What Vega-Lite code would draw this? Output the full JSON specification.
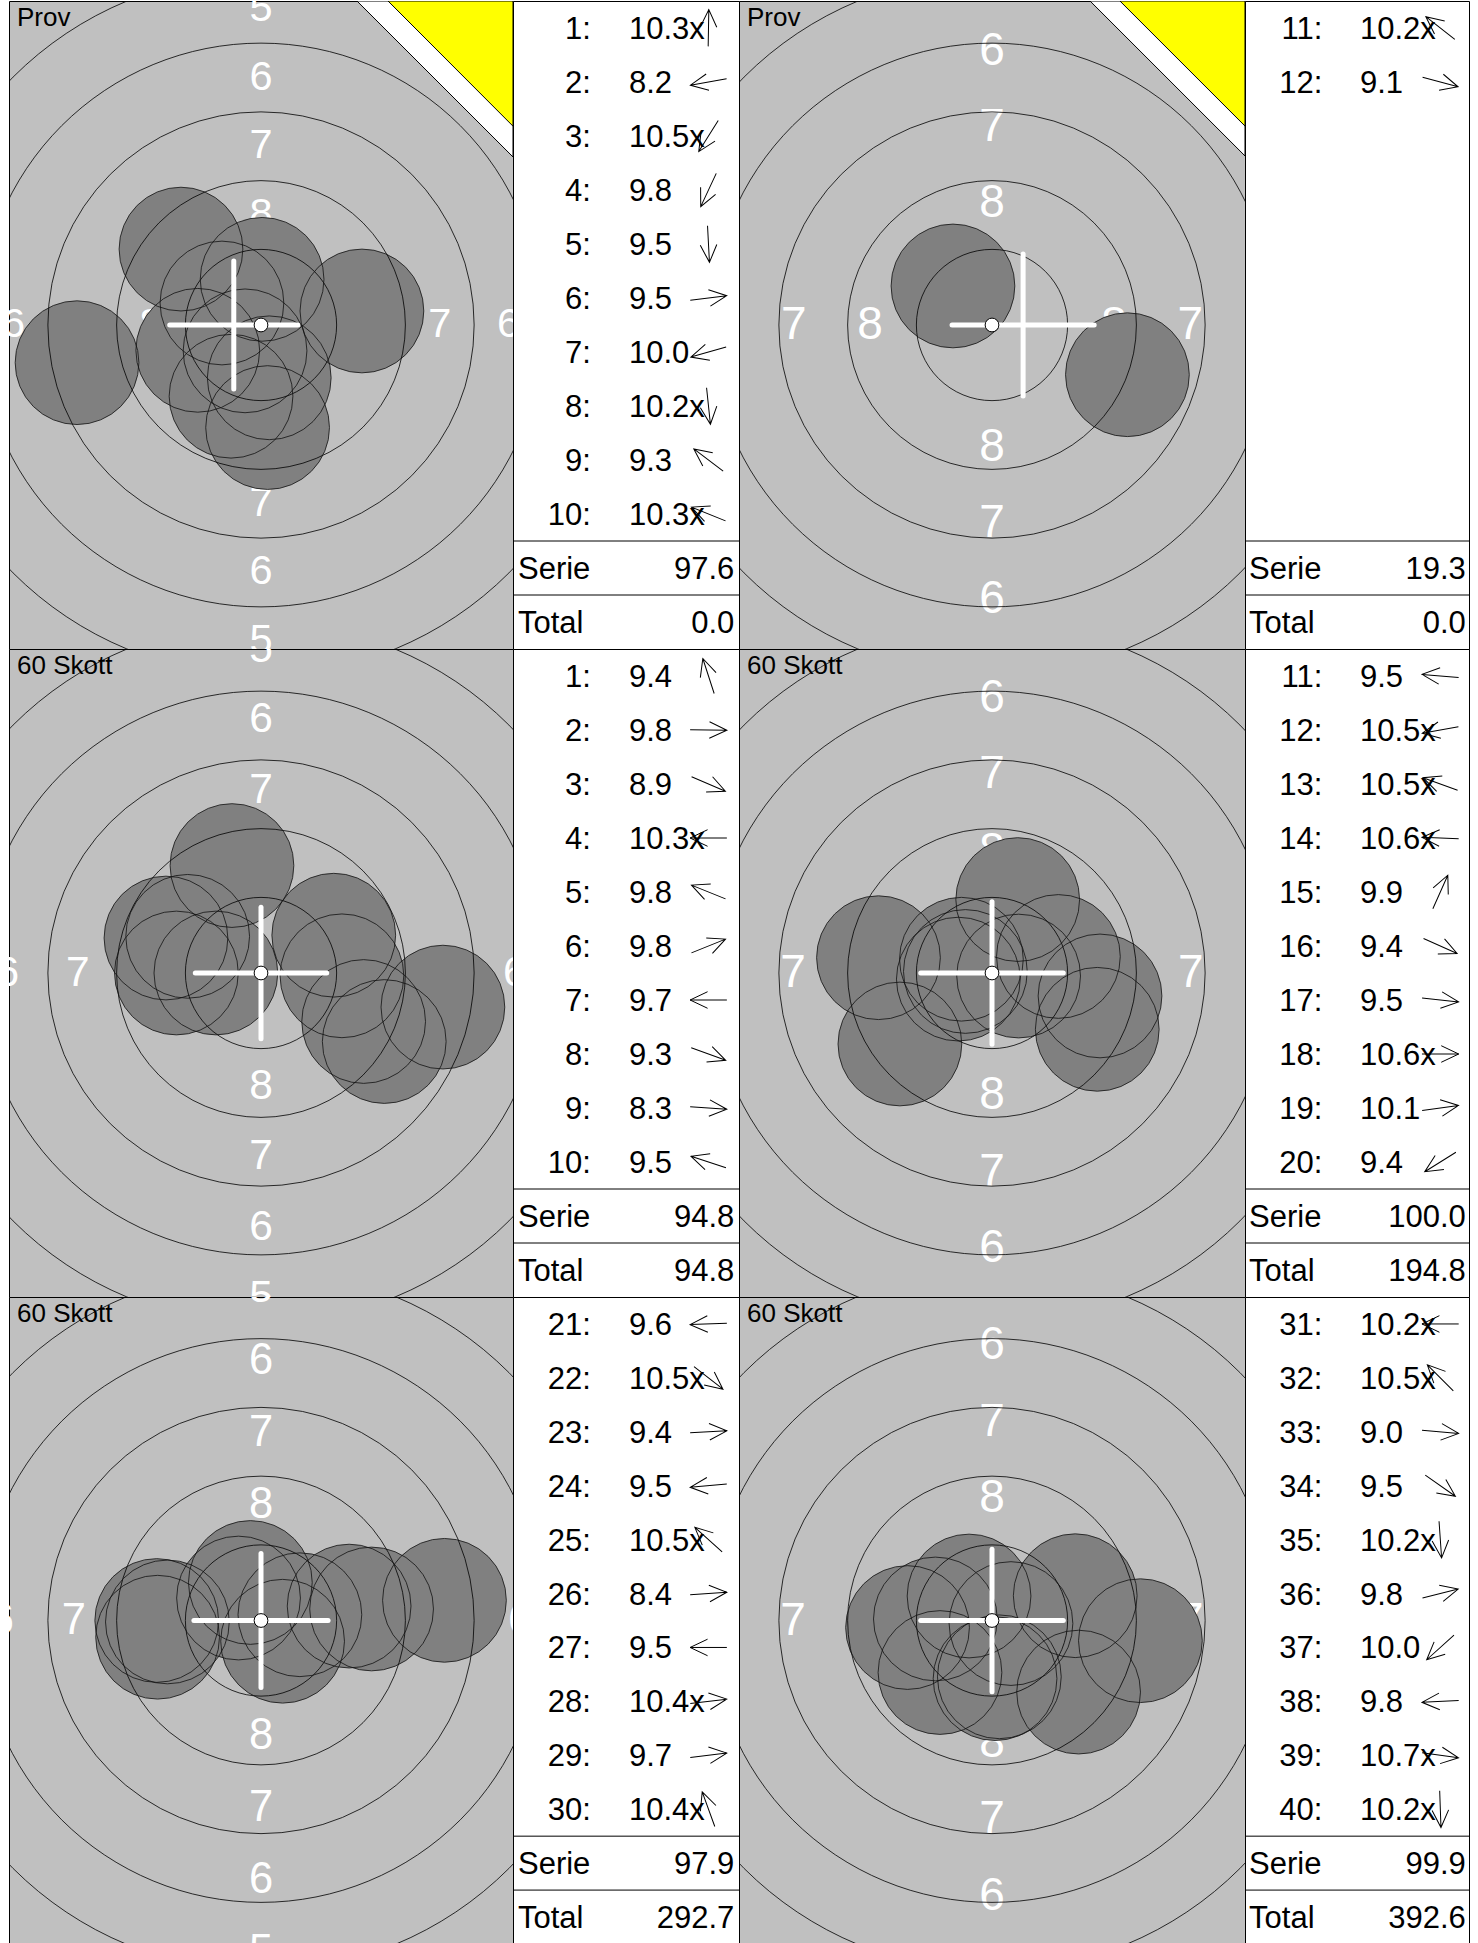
{
"$schema": "https://vega.github.io/schema/vega-lite/v6.json",
"padding": {"left": 8, "top": 0, "right": 10, "bottom": 0},
"autosize": {"type": "pad"},
"spacing": 0,
"bounds": "flush",
"columns": 4,
"config": {"axis": {"disable": true}, "legend": {"disable": true}, "concat": {"spacing": 0}, "text": {"font": "Liberation Sans"},
  "title": {"anchor": "start", "frame": "group", "orient": "top", "offset": -30, "dx": 8, "fontSize": 26, "font": "Liberation Sans", "fontWeight": "normal", "color": "#000000"}},
"datasets": {
"labels": [
{"t":"8","x":0,"y":4.0},{"t":"8","x":0,"y":-4.0},{"t":"8","x":4.0,"y":0},{"t":"8","x":-4.0,"y":0},
{"t":"7","x":0,"y":6.5},{"t":"7","x":0,"y":-6.5},{"t":"7","x":6.5,"y":0},{"t":"7","x":-6.5,"y":0},
{"t":"6","x":0,"y":9.0},{"t":"6","x":0,"y":-9.0},{"t":"6","x":9.0,"y":0},{"t":"6","x":-9.0,"y":0},
{"t":"5","x":0,"y":11.5},{"t":"5","x":0,"y":-11.5},{"t":"5","x":11.5,"y":0},{"t":"5","x":-11.5,"y":0},
{"t":"4","x":0,"y":14.0},{"t":"4","x":0,"y":-14.0},{"t":"4","x":14.0,"y":0},{"t":"4","x":-14.0,"y":0}
],
"rings": [{"x":0,"y":0,"r":2.75},{"x":0,"y":0,"r":5.25},{"x":0,"y":0,"r":7.75},{"x":0,"y":0,"r":10.25},{"x":0,"y":0,"r":12.75},{"x":0,"y":0,"r":15.25},{"x":0,"y":0,"r":17.75}],
"center": [{"x":0,"y":0}],
"shots": [
{"p":1,"n":1,"x":0.04,"y":1.66},{"p":1,"n":2,"x":-6.69,"y":-1.37},{"p":1,"n":3,"x":-0.58,"y":-0.94},{"p":1,"n":4,"x":-1.09,"y":-2.59},{"p":1,"n":5,"x":0.24,"y":-3.73},
{"p":1,"n":6,"x":3.67,"y":0.51},{"p":1,"n":7,"x":-2.30,"y":-0.92},{"p":1,"n":8,"x":0.30,"y":-1.92},{"p":1,"n":9,"x":-2.91,"y":2.76},{"p":1,"n":10,"x":-1.42,"y":0.80},
{"p":2,"n":11,"x":-1.28,"y":1.28},{"p":2,"n":12,"x":4.44,"y":-1.63},
{"p":3,"n":1,"x":-1.03,"y":3.81},{"p":3,"n":2,"x":2.87,"y":-0.1},{"p":3,"n":3,"x":4.37,"y":-2.43},{"p":3,"n":4,"x":-1.6,"y":0.0},{"p":3,"n":5,"x":-2.6,"y":1.3},
{"p":3,"n":6,"x":2.58,"y":1.34},{"p":3,"n":7,"x":-3.0,"y":0.0},{"p":3,"n":8,"x":3.64,"y":-1.72},{"p":3,"n":9,"x":6.45,"y":-1.21},{"p":3,"n":10,"x":-3.37,"y":1.24},
{"p":4,"n":11,"x":-3.71,"y":0.5},{"p":4,"n":12,"x":-1.1,"y":-0.2},{"p":4,"n":13,"x":-1.0,"y":0.45},{"p":4,"n":14,"x":-0.87,"y":0.05},{"p":4,"n":15,"x":0.84,"y":2.40},
{"p":4,"n":16,"x":3.44,"y":-1.84},{"p":4,"n":17,"x":3.53,"y":-0.75},{"p":4,"n":18,"x":0.87,"y":-0.1},{"p":4,"n":19,"x":2.17,"y":0.54},{"p":4,"n":20,"x":-3.01,"y":-2.32},
{"p":5,"n":21,"x":-3.25,"y":-0.05},{"p":5,"n":22,"x":0.75,"y":-0.72},{"p":5,"n":23,"x":3.84,"y":0.4},{"p":5,"n":24,"x":-3.59,"y":-0.58},{"p":5,"n":25,"x":-0.78,"y":0.78},
{"p":5,"n":26,"x":6.37,"y":0.7},{"p":5,"n":27,"x":-3.62,"y":0.0},{"p":5,"n":28,"x":1.35,"y":0.2},{"p":5,"n":29,"x":3.06,"y":0.5},{"p":5,"n":30,"x":-0.37,"y":1.32},
{"p":6,"n":31,"x":-1.85,"y":0.05},{"p":6,"n":32,"x":-0.75,"y":0.8},{"p":6,"n":33,"x":4.85,"y":-0.66},{"p":6,"n":34,"x":2.83,"y":-2.34},{"p":6,"n":35,"x":0.24,"y":-1.84},
{"p":6,"n":36,"x":2.72,"y":0.81},{"p":6,"n":37,"x":-1.7,"y":-1.7},{"p":6,"n":38,"x":-2.76,"y":-0.23},{"p":6,"n":39,"x":0.62,"y":-0.1},{"p":6,"n":40,"x":0.1,"y":-1.9}
],
"cross": [
{"p":1,"x":-3.32,"x2":1.34,"y":0,"y2":0},{"p":1,"x":-0.99,"x2":-0.99,"y":-2.33,"y2":2.33},
{"p":2,"x":-1.31,"x2":3.35,"y":0,"y2":0},{"p":2,"x":1.02,"x2":1.02,"y":-2.33,"y2":2.33},
{"p":3,"x":-2.33,"x2":2.33,"y":0,"y2":0},{"p":3,"x":0,"x2":0,"y":-2.33,"y2":2.33},
{"p":4,"x":-2.33,"x2":2.33,"y":0,"y2":0},{"p":4,"x":0,"x2":0,"y":-2.33,"y2":2.33},
{"p":5,"x":-2.33,"x2":2.33,"y":0,"y2":0},{"p":5,"x":0,"x2":0,"y":-2.33,"y2":2.33},
{"p":6,"x":-2.33,"x2":2.33,"y":0,"y2":0},{"p":6,"x":0,"x2":0,"y":-2.33,"y2":2.33}
],
"corner": [
{"p":1,"c":"w","x":3.49,"y":11.782,"y2":11.782},{"p":1,"c":"w","x":9.164,"y":6.11,"y2":11.782},
{"p":1,"c":"y","x":4.62,"y":11.782,"y2":11.782},{"p":1,"c":"y","x":9.164,"y":7.23,"y2":11.782},
{"p":2,"c":"w","x":3.215,"y":10.623,"y2":10.623},{"p":2,"c":"w","x":8.295,"y":5.543,"y2":10.623},
{"p":2,"c":"y","x":4.195,"y":10.623,"y2":10.623},{"p":2,"c":"y","x":8.295,"y":6.523,"y2":10.623}
],
"tab": [
{"t":1,"slot":1,"num":"1:","score":"10.3x","dir":89},{"t":1,"slot":2,"num":"2:","score":"\u00a08.2","dir":190},{"t":1,"slot":3,"num":"3:","score":"10.5x","dir":238},
{"t":1,"slot":4,"num":"4:","score":"\u00a09.8","dir":245},{"t":1,"slot":5,"num":"5:","score":"\u00a09.5","dir":273},{"t":1,"slot":6,"num":"6:","score":"\u00a09.5","dir":7},
{"t":1,"slot":7,"num":"7:","score":"10.0","dir":196},{"t":1,"slot":8,"num":"8:","score":"10.2x","dir":276},{"t":1,"slot":9,"num":"9:","score":"\u00a09.3","dir":143},
{"t":1,"slot":10,"num":"10:","score":"10.3x","dir":158},
{"t":2,"slot":1,"num":"11:","score":"10.2x","dir":142},{"t":2,"slot":2,"num":"12:","score":"\u00a09.1","dir":345},
{"t":3,"slot":1,"num":"1:","score":"\u00a09.4","dir":108},{"t":3,"slot":2,"num":"2:","score":"\u00a09.8","dir":359},{"t":3,"slot":3,"num":"3:","score":"\u00a08.9","dir":337},
{"t":3,"slot":4,"num":"4:","score":"10.3x","dir":180},{"t":3,"slot":5,"num":"5:","score":"\u00a09.8","dir":158},{"t":3,"slot":6,"num":"6:","score":"\u00a09.8","dir":22},
{"t":3,"slot":7,"num":"7:","score":"\u00a09.7","dir":180},{"t":3,"slot":8,"num":"8:","score":"\u00a09.3","dir":340},{"t":3,"slot":9,"num":"9:","score":"\u00a08.3","dir":356},
{"t":3,"slot":10,"num":"10:","score":"\u00a09.5","dir":162},
{"t":4,"slot":1,"num":"11:","score":"\u00a09.5","dir":175},{"t":4,"slot":2,"num":"12:","score":"10.5x","dir":190},{"t":4,"slot":3,"num":"13:","score":"10.5x","dir":160},
{"t":4,"slot":4,"num":"14:","score":"10.6x","dir":178},{"t":4,"slot":5,"num":"15:","score":"\u00a09.9","dir":66},{"t":4,"slot":6,"num":"16:","score":"\u00a09.4","dir":336},
{"t":4,"slot":7,"num":"17:","score":"\u00a09.5","dir":354},{"t":4,"slot":8,"num":"18:","score":"10.6x","dir":0},{"t":4,"slot":9,"num":"19:","score":"10.1","dir":8},
{"t":4,"slot":10,"num":"20:","score":"\u00a09.4","dir":212},
{"t":5,"slot":1,"num":"21:","score":"\u00a09.6","dir":182},{"t":5,"slot":2,"num":"22:","score":"10.5x","dir":322},{"t":5,"slot":3,"num":"23:","score":"\u00a09.4","dir":3},
{"t":5,"slot":4,"num":"24:","score":"\u00a09.5","dir":185},{"t":5,"slot":5,"num":"25:","score":"10.5x","dir":138},{"t":5,"slot":6,"num":"26:","score":"\u00a08.4","dir":4},
{"t":5,"slot":7,"num":"27:","score":"\u00a09.5","dir":180},{"t":5,"slot":8,"num":"28:","score":"10.4x","dir":7},{"t":5,"slot":9,"num":"29:","score":"\u00a09.7","dir":7},
{"t":5,"slot":10,"num":"30:","score":"10.4x","dir":110},
{"t":6,"slot":1,"num":"31:","score":"10.2x","dir":180},{"t":6,"slot":2,"num":"32:","score":"10.5x","dir":135},{"t":6,"slot":3,"num":"33:","score":"\u00a09.0","dir":355},
{"t":6,"slot":4,"num":"34:","score":"\u00a09.5","dir":325},{"t":6,"slot":5,"num":"35:","score":"10.2x","dir":274},{"t":6,"slot":6,"num":"36:","score":"\u00a09.8","dir":14},
{"t":6,"slot":7,"num":"37:","score":"10.0","dir":222},{"t":6,"slot":8,"num":"38:","score":"\u00a09.8","dir":183},{"t":6,"slot":9,"num":"39:","score":"10.7x","dir":352},
{"t":6,"slot":10,"num":"40:","score":"10.2x","dir":272}
],
"sums": [
{"t":1,"slot":11,"label":"Serie","value":"97.6"},{"t":1,"slot":12,"label":"Total","value":"0.0"},
{"t":2,"slot":11,"label":"Serie","value":"19.3"},{"t":2,"slot":12,"label":"Total","value":"0.0"},
{"t":3,"slot":11,"label":"Serie","value":"94.8"},{"t":3,"slot":12,"label":"Total","value":"94.8"},
{"t":4,"slot":11,"label":"Serie","value":"100.0"},{"t":4,"slot":12,"label":"Total","value":"194.8"},
{"t":5,"slot":11,"label":"Serie","value":"97.9"},{"t":5,"slot":12,"label":"Total","value":"292.7"},
{"t":6,"slot":11,"label":"Serie","value":"99.9"},{"t":6,"slot":12,"label":"Total","value":"392.6"}
],
"seps": [{"slot":11},{"slot":12}]
},
"concat": [
{"width": 504, "height": 648, "title": "Prov", "view": {"fill": "#c0c0c0", "stroke": "#000000", "strokeWidth": 1},
 "encoding": {"x": {"field":"x","type":"quantitative","scale":{"domain":[-9.164,9.164],"nice":false,"zero":false},"axis":null},
              "y": {"field":"y","type":"quantitative","scale":{"domain":[-11.782,11.782],"nice":false,"zero":false},"axis":null}},
 "layer": [
  {"data":{"name":"labels"},"mark":{"type":"text","color":"#ffffff","font":"Liberation Sans","fontSize":41.5,"align":"center","baseline":"middle","clip":true},"encoding":{"text":{"field":"t","type":"nominal"}}},
  {"data":{"name":"shots"},"transform":[{"filter":"datum.p == 1"}],"mark":{"type":"point","shape":"circle","filled":true,"color":"#808080","opacity":1,"strokeWidth":0,"clip":true},"encoding":{"size":{"datum":2.25,"type":"quantitative","scale":{"type":"pow","exponent":2,"domain":[0,10],"range":[0,302500]}}}},
  {"data":{"name":"rings"},"mark":{"type":"point","shape":"circle","filled":false,"color":"#000000","strokeWidth":0.8,"opacity":1,"clip":true},"encoding":{"size":{"field":"r","type":"quantitative","scale":{"type":"pow","exponent":2,"domain":[0,10],"range":[0,302500]}}}},
  {"data":{"name":"shots"},"transform":[{"filter":"datum.p == 1"}],"mark":{"type":"point","shape":"circle","filled":false,"color":"#111111","strokeWidth":0.8,"opacity":1,"clip":true},"encoding":{"size":{"datum":2.25,"type":"quantitative","scale":{"type":"pow","exponent":2,"domain":[0,10],"range":[0,302500]}}}},
  {"data":{"name":"cross"},"transform":[{"filter":"datum.p == 1"}],"mark":{"type":"rule","color":"#ffffff","strokeWidth":5,"strokeCap":"round","clip":true},"encoding":{"x2":{"field":"x2"},"y2":{"field":"y2"}}},
  {"data":{"name":"center"},"mark":{"type":"point","shape":"circle","filled":true,"fill":"#ffffff","stroke":"#000000","strokeWidth":1,"opacity":1},"encoding":{"size":{"datum":0.25,"type":"quantitative","scale":{"type":"pow","exponent":2,"domain":[0,10],"range":[0,302500]}}}},
  {"data":{"name":"corner"},"transform":[{"filter":"datum.p == 1 && datum.c == 'w'"}],"mark":{"type":"area","fill":"#ffffff","stroke":"#000000","strokeWidth":1,"opacity":1,"clip":true},"encoding":{"y2":{"field":"y2"}}},
  {"data":{"name":"corner"},"transform":[{"filter":"datum.p == 1 && datum.c == 'y'"}],"mark":{"type":"area","fill":"#ffff00","stroke":"#000000","strokeWidth":1,"opacity":1,"clip":true},"encoding":{"y2":{"field":"y2"}}}
 ]},
{"width": 226, "height": 648, "view": {"fill": "#ffffff", "stroke": "#000000", "strokeWidth": 1},
 "encoding": {"y": {"field":"slot","type":"ordinal","bandPosition":0.5,"scale":{"type":"band","domain":[1,2,3,4,5,6,7,8,9,10,11,12],"paddingInner":0,"paddingOuter":0},"axis":null}},
 "layer": [
  {"data":{"name":"seps"},"mark":{"type":"rule","color":"#000000","strokeWidth":1},"encoding":{"y":{"field":"slot","type":"ordinal","bandPosition":0}}},
  {"data":{"name":"tab"},"transform":[{"filter":"datum.t == 1"}],"mark":{"type":"text","align":"right","baseline":"middle","dy":2,"fontSize":31,"font":"Liberation Sans","color":"#000000"},"encoding":{"x":{"datum":34.5,"type":"quantitative","scale":{"domain":[0,100],"nice":false},"axis":null},"text":{"field":"num","type":"nominal"}}},
  {"data":{"name":"tab"},"transform":[{"filter":"datum.t == 1"}],"mark":{"type":"text","align":"left","baseline":"middle","dy":2,"fontSize":31,"font":"Liberation Sans","color":"#000000"},"encoding":{"x":{"datum":51.3,"type":"quantitative"},"text":{"field":"score","type":"nominal"}}},
  {"data":{"name":"tab"},"transform":[{"filter":"datum.t == 1"}],"mark":{"type":"point","shape":"M -1 0 L 1 0 M 0.05 -0.45 L 1 0 L 0.05 0.45","filled":false,"color":"#000000","strokeWidth":1,"opacity":1,"size":1350},"encoding":{"x":{"datum":86.5,"type":"quantitative"},"angle":{"field":"dir","type":"quantitative","scale":{"domain":[0,360],"range":[360,0]}}}},
  {"data":{"name":"sums"},"transform":[{"filter":"datum.t == 1"}],"mark":{"type":"text","align":"left","baseline":"middle","dy":2,"fontSize":31,"font":"Liberation Sans","color":"#000000"},"encoding":{"x":{"datum":2.2,"type":"quantitative"},"text":{"field":"label","type":"nominal"}}},
  {"data":{"name":"sums"},"transform":[{"filter":"datum.t == 1"}],"mark":{"type":"text","align":"right","baseline":"middle","dy":2,"fontSize":31,"font":"Liberation Sans","color":"#000000"},"encoding":{"x":{"datum":97.9,"type":"quantitative"},"text":{"field":"value","type":"nominal"}}}
 ]},
{"width": 506, "height": 648, "title": "Prov", "view": {"fill": "#c0c0c0", "stroke": "#000000", "strokeWidth": 1},
 "encoding": {"x": {"field":"x","type":"quantitative","scale":{"domain":[-8.295,8.295],"nice":false,"zero":false},"axis":null},
              "y": {"field":"y","type":"quantitative","scale":{"domain":[-10.623,10.623],"nice":false,"zero":false},"axis":null}},
 "layer": [
  {"data":{"name":"labels"},"mark":{"type":"text","color":"#ffffff","font":"Liberation Sans","fontSize":46,"align":"center","baseline":"middle","clip":true},"encoding":{"text":{"field":"t","type":"nominal"}}},
  {"data":{"name":"shots"},"transform":[{"filter":"datum.p == 2"}],"mark":{"type":"point","shape":"circle","filled":true,"color":"#808080","opacity":1,"strokeWidth":0,"clip":true},"encoding":{"size":{"datum":2.25,"type":"quantitative","scale":{"type":"pow","exponent":2,"domain":[0,10],"range":[0,372100]}}}},
  {"data":{"name":"rings"},"mark":{"type":"point","shape":"circle","filled":false,"color":"#000000","strokeWidth":0.8,"opacity":1,"clip":true},"encoding":{"size":{"field":"r","type":"quantitative","scale":{"type":"pow","exponent":2,"domain":[0,10],"range":[0,372100]}}}},
  {"data":{"name":"shots"},"transform":[{"filter":"datum.p == 2"}],"mark":{"type":"point","shape":"circle","filled":false,"color":"#111111","strokeWidth":0.8,"opacity":1,"clip":true},"encoding":{"size":{"datum":2.25,"type":"quantitative","scale":{"type":"pow","exponent":2,"domain":[0,10],"range":[0,372100]}}}},
  {"data":{"name":"cross"},"transform":[{"filter":"datum.p == 2"}],"mark":{"type":"rule","color":"#ffffff","strokeWidth":5,"strokeCap":"round","clip":true},"encoding":{"x2":{"field":"x2"},"y2":{"field":"y2"}}},
  {"data":{"name":"center"},"mark":{"type":"point","shape":"circle","filled":true,"fill":"#ffffff","stroke":"#000000","strokeWidth":1,"opacity":1},"encoding":{"size":{"datum":0.25,"type":"quantitative","scale":{"type":"pow","exponent":2,"domain":[0,10],"range":[0,372100]}}}},
  {"data":{"name":"corner"},"transform":[{"filter":"datum.p == 2 && datum.c == 'w'"}],"mark":{"type":"area","fill":"#ffffff","stroke":"#000000","strokeWidth":1,"opacity":1,"clip":true},"encoding":{"y2":{"field":"y2"}}},
  {"data":{"name":"corner"},"transform":[{"filter":"datum.p == 2 && datum.c == 'y'"}],"mark":{"type":"area","fill":"#ffff00","stroke":"#000000","strokeWidth":1,"opacity":1,"clip":true},"encoding":{"y2":{"field":"y2"}}}
 ]},
{"width": 224, "height": 648, "view": {"fill": "#ffffff", "stroke": "#000000", "strokeWidth": 1},
 "encoding": {"y": {"field":"slot","type":"ordinal","bandPosition":0.5,"scale":{"type":"band","domain":[1,2,3,4,5,6,7,8,9,10,11,12],"paddingInner":0,"paddingOuter":0},"axis":null}},
 "layer": [
  {"data":{"name":"seps"},"mark":{"type":"rule","color":"#000000","strokeWidth":1},"encoding":{"y":{"field":"slot","type":"ordinal","bandPosition":0}}},
  {"data":{"name":"tab"},"transform":[{"filter":"datum.t == 2"}],"mark":{"type":"text","align":"right","baseline":"middle","dy":2,"fontSize":31,"font":"Liberation Sans","color":"#000000"},"encoding":{"x":{"datum":34.5,"type":"quantitative","scale":{"domain":[0,100],"nice":false},"axis":null},"text":{"field":"num","type":"nominal"}}},
  {"data":{"name":"tab"},"transform":[{"filter":"datum.t == 2"}],"mark":{"type":"text","align":"left","baseline":"middle","dy":2,"fontSize":31,"font":"Liberation Sans","color":"#000000"},"encoding":{"x":{"datum":51.3,"type":"quantitative"},"text":{"field":"score","type":"nominal"}}},
  {"data":{"name":"tab"},"transform":[{"filter":"datum.t == 2"}],"mark":{"type":"point","shape":"M -1 0 L 1 0 M 0.05 -0.45 L 1 0 L 0.05 0.45","filled":false,"color":"#000000","strokeWidth":1,"opacity":1,"size":1350},"encoding":{"x":{"datum":87.2,"type":"quantitative"},"angle":{"field":"dir","type":"quantitative","scale":{"domain":[0,360],"range":[360,0]}}}},
  {"data":{"name":"sums"},"transform":[{"filter":"datum.t == 2"}],"mark":{"type":"text","align":"left","baseline":"middle","dy":2,"fontSize":31,"font":"Liberation Sans","color":"#000000"},"encoding":{"x":{"datum":1.8,"type":"quantitative"},"text":{"field":"label","type":"nominal"}}},
  {"data":{"name":"sums"},"transform":[{"filter":"datum.t == 2"}],"mark":{"type":"text","align":"right","baseline":"middle","dy":2,"fontSize":31,"font":"Liberation Sans","color":"#000000"},"encoding":{"x":{"datum":98.6,"type":"quantitative"},"text":{"field":"value","type":"nominal"}}}
 ]},
{"width": 504, "height": 648, "title": "60 Skott", "view": {"fill": "#c0c0c0", "stroke": "#000000", "strokeWidth": 1},
 "encoding": {"x": {"field":"x","type":"quantitative","scale":{"domain":[-8.936,8.936],"nice":false,"zero":false},"axis":null},
              "y": {"field":"y","type":"quantitative","scale":{"domain":[-11.489,11.489],"nice":false,"zero":false},"axis":null}},
 "layer": [
  {"data":{"name":"labels"},"mark":{"type":"text","color":"#ffffff","font":"Liberation Sans","fontSize":42.5,"align":"center","baseline":"middle","clip":true},"encoding":{"text":{"field":"t","type":"nominal"}}},
  {"data":{"name":"shots"},"transform":[{"filter":"datum.p == 3"}],"mark":{"type":"point","shape":"circle","filled":true,"color":"#808080","opacity":1,"strokeWidth":0,"clip":true},"encoding":{"size":{"datum":2.25,"type":"quantitative","scale":{"type":"pow","exponent":2,"domain":[0,10],"range":[0,318096]}}}},
  {"data":{"name":"rings"},"mark":{"type":"point","shape":"circle","filled":false,"color":"#000000","strokeWidth":0.8,"opacity":1,"clip":true},"encoding":{"size":{"field":"r","type":"quantitative","scale":{"type":"pow","exponent":2,"domain":[0,10],"range":[0,318096]}}}},
  {"data":{"name":"shots"},"transform":[{"filter":"datum.p == 3"}],"mark":{"type":"point","shape":"circle","filled":false,"color":"#111111","strokeWidth":0.8,"opacity":1,"clip":true},"encoding":{"size":{"datum":2.25,"type":"quantitative","scale":{"type":"pow","exponent":2,"domain":[0,10],"range":[0,318096]}}}},
  {"data":{"name":"cross"},"transform":[{"filter":"datum.p == 3"}],"mark":{"type":"rule","color":"#ffffff","strokeWidth":5,"strokeCap":"round","clip":true},"encoding":{"x2":{"field":"x2"},"y2":{"field":"y2"}}},
  {"data":{"name":"center"},"mark":{"type":"point","shape":"circle","filled":true,"fill":"#ffffff","stroke":"#000000","strokeWidth":1,"opacity":1},"encoding":{"size":{"datum":0.25,"type":"quantitative","scale":{"type":"pow","exponent":2,"domain":[0,10],"range":[0,318096]}}}}
 ]},
{"width": 226, "height": 648, "view": {"fill": "#ffffff", "stroke": "#000000", "strokeWidth": 1},
 "encoding": {"y": {"field":"slot","type":"ordinal","bandPosition":0.5,"scale":{"type":"band","domain":[1,2,3,4,5,6,7,8,9,10,11,12],"paddingInner":0,"paddingOuter":0},"axis":null}},
 "layer": [
  {"data":{"name":"seps"},"mark":{"type":"rule","color":"#000000","strokeWidth":1},"encoding":{"y":{"field":"slot","type":"ordinal","bandPosition":0}}},
  {"data":{"name":"tab"},"transform":[{"filter":"datum.t == 3"}],"mark":{"type":"text","align":"right","baseline":"middle","dy":2,"fontSize":31,"font":"Liberation Sans","color":"#000000"},"encoding":{"x":{"datum":34.5,"type":"quantitative","scale":{"domain":[0,100],"nice":false},"axis":null},"text":{"field":"num","type":"nominal"}}},
  {"data":{"name":"tab"},"transform":[{"filter":"datum.t == 3"}],"mark":{"type":"text","align":"left","baseline":"middle","dy":2,"fontSize":31,"font":"Liberation Sans","color":"#000000"},"encoding":{"x":{"datum":51.3,"type":"quantitative"},"text":{"field":"score","type":"nominal"}}},
  {"data":{"name":"tab"},"transform":[{"filter":"datum.t == 3"}],"mark":{"type":"point","shape":"M -1 0 L 1 0 M 0.05 -0.45 L 1 0 L 0.05 0.45","filled":false,"color":"#000000","strokeWidth":1,"opacity":1,"size":1350},"encoding":{"x":{"datum":86.5,"type":"quantitative"},"angle":{"field":"dir","type":"quantitative","scale":{"domain":[0,360],"range":[360,0]}}}},
  {"data":{"name":"sums"},"transform":[{"filter":"datum.t == 3"}],"mark":{"type":"text","align":"left","baseline":"middle","dy":2,"fontSize":31,"font":"Liberation Sans","color":"#000000"},"encoding":{"x":{"datum":2.2,"type":"quantitative"},"text":{"field":"label","type":"nominal"}}},
  {"data":{"name":"sums"},"transform":[{"filter":"datum.t == 3"}],"mark":{"type":"text","align":"right","baseline":"middle","dy":2,"fontSize":31,"font":"Liberation Sans","color":"#000000"},"encoding":{"x":{"datum":97.9,"type":"quantitative"},"text":{"field":"value","type":"nominal"}}}
 ]},
{"width": 506, "height": 648, "title": "60 Skott", "view": {"fill": "#c0c0c0", "stroke": "#000000", "strokeWidth": 1},
 "encoding": {"x": {"field":"x","type":"quantitative","scale":{"domain":[-8.268,8.268],"nice":false,"zero":false},"axis":null},
              "y": {"field":"y","type":"quantitative","scale":{"domain":[-10.588,10.588],"nice":false,"zero":false},"axis":null}},
 "layer": [
  {"data":{"name":"labels"},"mark":{"type":"text","color":"#ffffff","font":"Liberation Sans","fontSize":46,"align":"center","baseline":"middle","clip":true},"encoding":{"text":{"field":"t","type":"nominal"}}},
  {"data":{"name":"shots"},"transform":[{"filter":"datum.p == 4"}],"mark":{"type":"point","shape":"circle","filled":true,"color":"#808080","opacity":1,"strokeWidth":0,"clip":true},"encoding":{"size":{"datum":2.25,"type":"quantitative","scale":{"type":"pow","exponent":2,"domain":[0,10],"range":[0,374544]}}}},
  {"data":{"name":"rings"},"mark":{"type":"point","shape":"circle","filled":false,"color":"#000000","strokeWidth":0.8,"opacity":1,"clip":true},"encoding":{"size":{"field":"r","type":"quantitative","scale":{"type":"pow","exponent":2,"domain":[0,10],"range":[0,374544]}}}},
  {"data":{"name":"shots"},"transform":[{"filter":"datum.p == 4"}],"mark":{"type":"point","shape":"circle","filled":false,"color":"#111111","strokeWidth":0.8,"opacity":1,"clip":true},"encoding":{"size":{"datum":2.25,"type":"quantitative","scale":{"type":"pow","exponent":2,"domain":[0,10],"range":[0,374544]}}}},
  {"data":{"name":"cross"},"transform":[{"filter":"datum.p == 4"}],"mark":{"type":"rule","color":"#ffffff","strokeWidth":5,"strokeCap":"round","clip":true},"encoding":{"x2":{"field":"x2"},"y2":{"field":"y2"}}},
  {"data":{"name":"center"},"mark":{"type":"point","shape":"circle","filled":true,"fill":"#ffffff","stroke":"#000000","strokeWidth":1,"opacity":1},"encoding":{"size":{"datum":0.25,"type":"quantitative","scale":{"type":"pow","exponent":2,"domain":[0,10],"range":[0,374544]}}}}
 ]},
{"width": 224, "height": 648, "view": {"fill": "#ffffff", "stroke": "#000000", "strokeWidth": 1},
 "encoding": {"y": {"field":"slot","type":"ordinal","bandPosition":0.5,"scale":{"type":"band","domain":[1,2,3,4,5,6,7,8,9,10,11,12],"paddingInner":0,"paddingOuter":0},"axis":null}},
 "layer": [
  {"data":{"name":"seps"},"mark":{"type":"rule","color":"#000000","strokeWidth":1},"encoding":{"y":{"field":"slot","type":"ordinal","bandPosition":0}}},
  {"data":{"name":"tab"},"transform":[{"filter":"datum.t == 4"}],"mark":{"type":"text","align":"right","baseline":"middle","dy":2,"fontSize":31,"font":"Liberation Sans","color":"#000000"},"encoding":{"x":{"datum":34.5,"type":"quantitative","scale":{"domain":[0,100],"nice":false},"axis":null},"text":{"field":"num","type":"nominal"}}},
  {"data":{"name":"tab"},"transform":[{"filter":"datum.t == 4"}],"mark":{"type":"text","align":"left","baseline":"middle","dy":2,"fontSize":31,"font":"Liberation Sans","color":"#000000"},"encoding":{"x":{"datum":51.3,"type":"quantitative"},"text":{"field":"score","type":"nominal"}}},
  {"data":{"name":"tab"},"transform":[{"filter":"datum.t == 4"}],"mark":{"type":"point","shape":"M -1 0 L 1 0 M 0.05 -0.45 L 1 0 L 0.05 0.45","filled":false,"color":"#000000","strokeWidth":1,"opacity":1,"size":1350},"encoding":{"x":{"datum":87.2,"type":"quantitative"},"angle":{"field":"dir","type":"quantitative","scale":{"domain":[0,360],"range":[360,0]}}}},
  {"data":{"name":"sums"},"transform":[{"filter":"datum.t == 4"}],"mark":{"type":"text","align":"left","baseline":"middle","dy":2,"fontSize":31,"font":"Liberation Sans","color":"#000000"},"encoding":{"x":{"datum":1.8,"type":"quantitative"},"text":{"field":"label","type":"nominal"}}},
  {"data":{"name":"sums"},"transform":[{"filter":"datum.t == 4"}],"mark":{"type":"text","align":"right","baseline":"middle","dy":2,"fontSize":31,"font":"Liberation Sans","color":"#000000"},"encoding":{"x":{"datum":98.6,"type":"quantitative"},"text":{"field":"value","type":"nominal"}}}
 ]},
{"width": 504, "height": 647, "title": "60 Skott", "view": {"fill": "#c0c0c0", "stroke": "#000000", "strokeWidth": 1},
 "encoding": {"x": {"field":"x","type":"quantitative","scale":{"domain":[-8.75,8.75],"nice":false,"zero":false},"axis":null},
              "y": {"field":"y","type":"quantitative","scale":{"domain":[-11.233,11.233],"nice":false,"zero":false},"axis":null}},
 "layer": [
  {"data":{"name":"labels"},"mark":{"type":"text","color":"#ffffff","font":"Liberation Sans","fontSize":43.5,"align":"center","baseline":"middle","clip":true},"encoding":{"text":{"field":"t","type":"nominal"}}},
  {"data":{"name":"shots"},"transform":[{"filter":"datum.p == 5"}],"mark":{"type":"point","shape":"circle","filled":true,"color":"#808080","opacity":1,"strokeWidth":0,"clip":true},"encoding":{"size":{"datum":2.25,"type":"quantitative","scale":{"type":"pow","exponent":2,"domain":[0,10],"range":[0,331776]}}}},
  {"data":{"name":"rings"},"mark":{"type":"point","shape":"circle","filled":false,"color":"#000000","strokeWidth":0.8,"opacity":1,"clip":true},"encoding":{"size":{"field":"r","type":"quantitative","scale":{"type":"pow","exponent":2,"domain":[0,10],"range":[0,331776]}}}},
  {"data":{"name":"shots"},"transform":[{"filter":"datum.p == 5"}],"mark":{"type":"point","shape":"circle","filled":false,"color":"#111111","strokeWidth":0.8,"opacity":1,"clip":true},"encoding":{"size":{"datum":2.25,"type":"quantitative","scale":{"type":"pow","exponent":2,"domain":[0,10],"range":[0,331776]}}}},
  {"data":{"name":"cross"},"transform":[{"filter":"datum.p == 5"}],"mark":{"type":"rule","color":"#ffffff","strokeWidth":5,"strokeCap":"round","clip":true},"encoding":{"x2":{"field":"x2"},"y2":{"field":"y2"}}},
  {"data":{"name":"center"},"mark":{"type":"point","shape":"circle","filled":true,"fill":"#ffffff","stroke":"#000000","strokeWidth":1,"opacity":1},"encoding":{"size":{"datum":0.25,"type":"quantitative","scale":{"type":"pow","exponent":2,"domain":[0,10],"range":[0,331776]}}}}
 ]},
{"width": 226, "height": 647, "view": {"fill": "#ffffff", "stroke": "#000000", "strokeWidth": 1},
 "encoding": {"y": {"field":"slot","type":"ordinal","bandPosition":0.5,"scale":{"type":"band","domain":[1,2,3,4,5,6,7,8,9,10,11,12],"paddingInner":0,"paddingOuter":0},"axis":null}},
 "layer": [
  {"data":{"name":"seps"},"mark":{"type":"rule","color":"#000000","strokeWidth":1},"encoding":{"y":{"field":"slot","type":"ordinal","bandPosition":0}}},
  {"data":{"name":"tab"},"transform":[{"filter":"datum.t == 5"}],"mark":{"type":"text","align":"right","baseline":"middle","dy":2,"fontSize":31,"font":"Liberation Sans","color":"#000000"},"encoding":{"x":{"datum":34.5,"type":"quantitative","scale":{"domain":[0,100],"nice":false},"axis":null},"text":{"field":"num","type":"nominal"}}},
  {"data":{"name":"tab"},"transform":[{"filter":"datum.t == 5"}],"mark":{"type":"text","align":"left","baseline":"middle","dy":2,"fontSize":31,"font":"Liberation Sans","color":"#000000"},"encoding":{"x":{"datum":51.3,"type":"quantitative"},"text":{"field":"score","type":"nominal"}}},
  {"data":{"name":"tab"},"transform":[{"filter":"datum.t == 5"}],"mark":{"type":"point","shape":"M -1 0 L 1 0 M 0.05 -0.45 L 1 0 L 0.05 0.45","filled":false,"color":"#000000","strokeWidth":1,"opacity":1,"size":1350},"encoding":{"x":{"datum":86.5,"type":"quantitative"},"angle":{"field":"dir","type":"quantitative","scale":{"domain":[0,360],"range":[360,0]}}}},
  {"data":{"name":"sums"},"transform":[{"filter":"datum.t == 5"}],"mark":{"type":"text","align":"left","baseline":"middle","dy":2,"fontSize":31,"font":"Liberation Sans","color":"#000000"},"encoding":{"x":{"datum":2.2,"type":"quantitative"},"text":{"field":"label","type":"nominal"}}},
  {"data":{"name":"sums"},"transform":[{"filter":"datum.t == 5"}],"mark":{"type":"text","align":"right","baseline":"middle","dy":2,"fontSize":31,"font":"Liberation Sans","color":"#000000"},"encoding":{"x":{"datum":97.9,"type":"quantitative"},"text":{"field":"value","type":"nominal"}}}
 ]},
{"width": 506, "height": 647, "title": "60 Skott", "view": {"fill": "#c0c0c0", "stroke": "#000000", "strokeWidth": 1},
 "encoding": {"x": {"field":"x","type":"quantitative","scale":{"domain":[-8.268,8.268],"nice":false,"zero":false},"axis":null},
              "y": {"field":"y","type":"quantitative","scale":{"domain":[-10.572,10.572],"nice":false,"zero":false},"axis":null}},
 "layer": [
  {"data":{"name":"labels"},"mark":{"type":"text","color":"#ffffff","font":"Liberation Sans","fontSize":46,"align":"center","baseline":"middle","clip":true},"encoding":{"text":{"field":"t","type":"nominal"}}},
  {"data":{"name":"shots"},"transform":[{"filter":"datum.p == 6"}],"mark":{"type":"point","shape":"circle","filled":true,"color":"#808080","opacity":1,"strokeWidth":0,"clip":true},"encoding":{"size":{"datum":2.25,"type":"quantitative","scale":{"type":"pow","exponent":2,"domain":[0,10],"range":[0,374544]}}}},
  {"data":{"name":"rings"},"mark":{"type":"point","shape":"circle","filled":false,"color":"#000000","strokeWidth":0.8,"opacity":1,"clip":true},"encoding":{"size":{"field":"r","type":"quantitative","scale":{"type":"pow","exponent":2,"domain":[0,10],"range":[0,374544]}}}},
  {"data":{"name":"shots"},"transform":[{"filter":"datum.p == 6"}],"mark":{"type":"point","shape":"circle","filled":false,"color":"#111111","strokeWidth":0.8,"opacity":1,"clip":true},"encoding":{"size":{"datum":2.25,"type":"quantitative","scale":{"type":"pow","exponent":2,"domain":[0,10],"range":[0,374544]}}}},
  {"data":{"name":"cross"},"transform":[{"filter":"datum.p == 6"}],"mark":{"type":"rule","color":"#ffffff","strokeWidth":5,"strokeCap":"round","clip":true},"encoding":{"x2":{"field":"x2"},"y2":{"field":"y2"}}},
  {"data":{"name":"center"},"mark":{"type":"point","shape":"circle","filled":true,"fill":"#ffffff","stroke":"#000000","strokeWidth":1,"opacity":1},"encoding":{"size":{"datum":0.25,"type":"quantitative","scale":{"type":"pow","exponent":2,"domain":[0,10],"range":[0,374544]}}}}
 ]},
{"width": 224, "height": 647, "view": {"fill": "#ffffff", "stroke": "#000000", "strokeWidth": 1},
 "encoding": {"y": {"field":"slot","type":"ordinal","bandPosition":0.5,"scale":{"type":"band","domain":[1,2,3,4,5,6,7,8,9,10,11,12],"paddingInner":0,"paddingOuter":0},"axis":null}},
 "layer": [
  {"data":{"name":"seps"},"mark":{"type":"rule","color":"#000000","strokeWidth":1},"encoding":{"y":{"field":"slot","type":"ordinal","bandPosition":0}}},
  {"data":{"name":"tab"},"transform":[{"filter":"datum.t == 6"}],"mark":{"type":"text","align":"right","baseline":"middle","dy":2,"fontSize":31,"font":"Liberation Sans","color":"#000000"},"encoding":{"x":{"datum":34.5,"type":"quantitative","scale":{"domain":[0,100],"nice":false},"axis":null},"text":{"field":"num","type":"nominal"}}},
  {"data":{"name":"tab"},"transform":[{"filter":"datum.t == 6"}],"mark":{"type":"text","align":"left","baseline":"middle","dy":2,"fontSize":31,"font":"Liberation Sans","color":"#000000"},"encoding":{"x":{"datum":51.3,"type":"quantitative"},"text":{"field":"score","type":"nominal"}}},
  {"data":{"name":"tab"},"transform":[{"filter":"datum.t == 6"}],"mark":{"type":"point","shape":"M -1 0 L 1 0 M 0.05 -0.45 L 1 0 L 0.05 0.45","filled":false,"color":"#000000","strokeWidth":1,"opacity":1,"size":1350},"encoding":{"x":{"datum":87.2,"type":"quantitative"},"angle":{"field":"dir","type":"quantitative","scale":{"domain":[0,360],"range":[360,0]}}}},
  {"data":{"name":"sums"},"transform":[{"filter":"datum.t == 6"}],"mark":{"type":"text","align":"left","baseline":"middle","dy":2,"fontSize":31,"font":"Liberation Sans","color":"#000000"},"encoding":{"x":{"datum":1.8,"type":"quantitative"},"text":{"field":"label","type":"nominal"}}},
  {"data":{"name":"sums"},"transform":[{"filter":"datum.t == 6"}],"mark":{"type":"text","align":"right","baseline":"middle","dy":2,"fontSize":31,"font":"Liberation Sans","color":"#000000"},"encoding":{"x":{"datum":98.6,"type":"quantitative"},"text":{"field":"value","type":"nominal"}}}
 ]}
]
}
